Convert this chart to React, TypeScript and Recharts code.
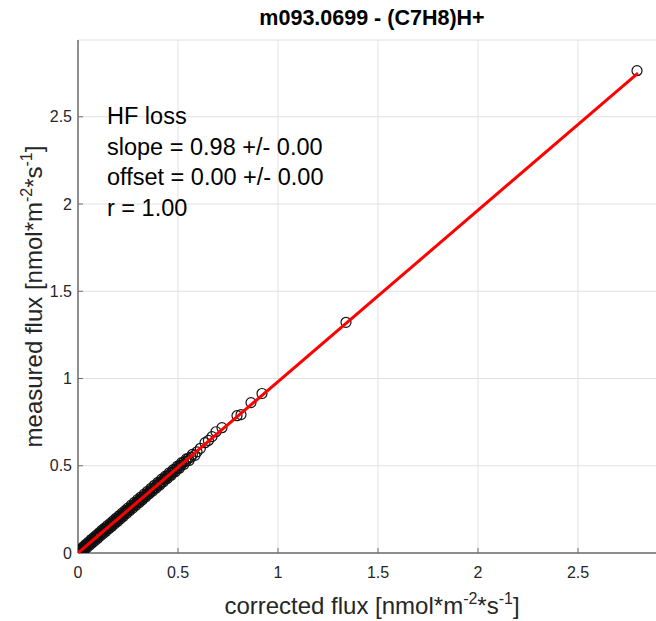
import {
  ComposedChart,
  Scatter,
  XAxis,
  YAxis,
  CartesianGrid,
} from "recharts";

const title = "m093.0699 - (C7H8)H+";
const fitLabel = ["HF loss", "slope = 0.98 +/- 0.00", "offset = 0.00 +/- 0.00", "r = 1.00"];

const axisTicks = [0, 0.5, 1, 1.5, 2, 2.5];
const axisMax = 2.94;

const corrected = [
  0.002, 0.004, 0.007, 0.01, 0.013, 0.017, 0.02, 0.024, 0.028, 0.032, 0.036, 0.041,
  0.045, 0.05, 0.055, 0.06, 0.064, 0.07, 0.075, 0.08, 0.086, 0.091, 0.097, 0.103,
  0.108, 0.114, 0.12, 0.126, 0.132, 0.138, 0.144, 0.15, 0.157, 0.163, 0.169, 0.176,
  0.182, 0.189, 0.195, 0.202, 0.209, 0.216, 0.222, 0.229, 0.236, 0.243, 0.25, 0.258,
  0.265, 0.272, 0.28, 0.287, 0.295, 0.302, 0.31, 0.318, 0.326, 0.334, 0.342, 0.35,
  0.358, 0.367, 0.375, 0.384, 0.392, 0.401, 0.41, 0.419, 0.428, 0.437, 0.447, 0.456,
  0.466, 0.476, 0.486, 0.496, 0.507, 0.517, 0.528, 0.54, 0.552, 0.565,
  0.595, 0.612, 0.635, 0.652, 0.67, 0.69, 0.72, 0.795, 0.815, 0.865, 0.92, 1.34, 2.795,
];
const measured = [
  0.003, 0.002, 0.008, 0.009, 0.014, 0.015, 0.021, 0.022, 0.029, 0.03, 0.037, 0.039,
  0.046, 0.048, 0.056, 0.057, 0.065, 0.067, 0.075, 0.077, 0.086, 0.088, 0.097, 0.099,
  0.108, 0.111, 0.119, 0.122, 0.131, 0.134, 0.143, 0.146, 0.155, 0.158, 0.167, 0.171,
  0.18, 0.183, 0.193, 0.196, 0.207, 0.21, 0.219, 0.223, 0.233, 0.236, 0.247, 0.251,
  0.262, 0.265, 0.276, 0.28, 0.291, 0.294, 0.306, 0.309, 0.322, 0.325, 0.337, 0.341,
  0.353, 0.357, 0.37, 0.374, 0.387, 0.39, 0.405, 0.408, 0.423, 0.426, 0.441, 0.444,
  0.46, 0.463, 0.48, 0.483, 0.5, 0.504, 0.521, 0.525, 0.543, 0.55,
  0.58, 0.6, 0.632, 0.645, 0.667, 0.695, 0.718, 0.787, 0.793, 0.862, 0.914, 1.322, 2.764,
];

// the spread of the dense cloud either side of the line
const correctedSpread = [
  0.004, 0.009, 0.015, 0.02, 0.027, 0.033, 0.04, 0.046, 0.053, 0.059, 0.066, 0.072,
  0.079, 0.085, 0.092, 0.099, 0.106, 0.112, 0.119, 0.126, 0.133, 0.14, 0.147, 0.154,
  0.161, 0.168, 0.175, 0.183, 0.19, 0.197, 0.205, 0.212, 0.22, 0.227, 0.235, 0.242,
  0.25, 0.258, 0.266, 0.274, 0.282, 0.29, 0.298, 0.306, 0.314, 0.322, 0.331, 0.339,
  0.348, 0.356, 0.365, 0.373, 0.382, 0.391, 0.4, 0.409, 0.418, 0.427, 0.437, 0.446,
  0.456, 0.466, 0.476, 0.486, 0.497, 0.507, 0.518, 0.53, 0.542, 0.555, 0.572, 0.585,
];
const measuredSpread = [
  0.012, 0.0, 0.024, 0.008, 0.036, 0.02, 0.05, 0.033, 0.063, 0.046, 0.077, 0.059,
  0.089, 0.071, 0.102, 0.085, 0.116, 0.098, 0.13, 0.111, 0.143, 0.125, 0.157, 0.139,
  0.17, 0.152, 0.184, 0.167, 0.199, 0.181, 0.213, 0.196, 0.228, 0.211, 0.243, 0.226,
  0.258, 0.242, 0.274, 0.257, 0.29, 0.273, 0.306, 0.289, 0.321, 0.305, 0.337, 0.322,
  0.354, 0.339, 0.371, 0.355, 0.388, 0.372, 0.405, 0.39, 0.423, 0.408, 0.44, 0.427,
  0.459, 0.446, 0.478, 0.466, 0.498, 0.486, 0.518, 0.508, 0.539, 0.53, 0.565, 0.56,
];

const fitX = [0, 2.8];
const fitY = [0, 2.75];

const points = [
  ...corrected.map((x, i) => ({ x, y: measured[i] })),
  ...correctedSpread.map((x, i) => ({ x, y: measuredSpread[i] })),
];
const fitLine = fitX.map((x, i) => ({ x, y: fitY[i] }));

const FONT = "'Liberation Sans', Arial, Helvetica, sans-serif";
const TEXT = "#262626";
const AXIS = "#6e6e6e";

function XLabel({ viewBox }: any) {
  const cx = viewBox.x + viewBox.width / 2;
  return (
    <text x={cx} y={viewBox.y + 61} textAnchor="middle" fontSize={24} fill={TEXT} fontFamily={FONT}>
      corrected flux [nmol*m
      <tspan dy={-10} fontSize={16}>-2</tspan>
      <tspan dy={10}>*s</tspan>
      <tspan dy={-10} fontSize={16}>-1</tspan>
      <tspan dy={10}>]</tspan>
    </text>
  );
}

function YLabel({ viewBox }: any) {
  const cy = viewBox.y + viewBox.height / 2;
  const bx = 42;
  return (
    <text
      x={bx}
      y={cy}
      transform={`rotate(-90, ${bx}, ${cy})`}
      textAnchor="middle"
      fontSize={24}
      fill={TEXT}
      fontFamily={FONT}
    >
      measured flux [nmol*m
      <tspan dy={-10} fontSize={16}>-2</tspan>
      <tspan dy={10}>*s</tspan>
      <tspan dy={-10} fontSize={16}>-1</tspan>
      <tspan dy={10}>]</tspan>
    </text>
  );
}

export default function App() {
  return (
    <div
      style={{
        position: "absolute",
        left: 0,
        top: 0,
        width: 656,
        height: 621,
        overflow: "hidden",
        background: "#fff",
        fontFamily: FONT,
      }}
    >
      <div
        style={{
          position: "absolute",
          left: 78,
          width: 588,
          top: 6,
          textAlign: "center",
          fontSize: 21.5,
          fontWeight: "bold",
          color: "#000",
        }}
      >
        {title}
      </div>
      <div
        style={{
          position: "absolute",
          left: 107,
          top: 101,
          fontSize: 23.5,
          lineHeight: "30.5px",
          color: "#000",
          zIndex: 2,
        }}
      >
        {fitLabel.map((t) => (
          <div key={t}>{t}</div>
        ))}
      </div>
      <ComposedChart
        width={670}
        height={621}
        margin={{ top: 40, right: 4, left: 0, bottom: 0 }}
      >
        <CartesianGrid stroke="#e2e2e2" strokeWidth={1} />
        <XAxis
          xAxisId={0}
          type="number"
          dataKey="x"
          domain={[0, axisMax]}
          ticks={axisTicks}
          allowDataOverflow
          height={68}
          tickSize={-5}
          tickMargin={19}
          tick={{ fontSize: 16, fill: TEXT, fontFamily: FONT }}
          tickLine={{ stroke: AXIS }}
          axisLine={{ stroke: AXIS, strokeWidth: 1.5 }}
          label={<XLabel />}
        />
        <XAxis
          xAxisId="top"
          orientation="top"
          type="number"
          dataKey="x"
          domain={[0, axisMax]}
          ticks={axisTicks}
          allowDataOverflow
          height={0}
          tickSize={-5}
          tick={false}
          tickLine={{ stroke: AXIS }}
          axisLine={{ stroke: AXIS, strokeWidth: 1.5 }}
        />
        <YAxis
          type="number"
          dataKey="y"
          domain={[0, axisMax]}
          ticks={axisTicks}
          allowDataOverflow
          width={78}
          tickSize={-5}
          tickMargin={11}
          tick={{ fontSize: 16, fill: TEXT, fontFamily: FONT }}
          tickLine={{ stroke: AXIS }}
          axisLine={{ stroke: AXIS, strokeWidth: 1.5 }}
          label={<YLabel />}
        />
        <Scatter
          data={points}
          fill="none"
          stroke="#111"
          strokeWidth={1.2}
          isAnimationActive={false}
          shape={(p: any) => (
            <circle cx={p.cx} cy={p.cy} r={5} fill="none" stroke="#111" strokeWidth={1.2} />
          )}
        />
        <Scatter
          data={fitLine}
          line={{ stroke: "#ff0000", strokeWidth: 3 }}
          lineType="joint"
          isAnimationActive={false}
          shape={() => <g />}
        />
      </ComposedChart>
    </div>
  );
}
